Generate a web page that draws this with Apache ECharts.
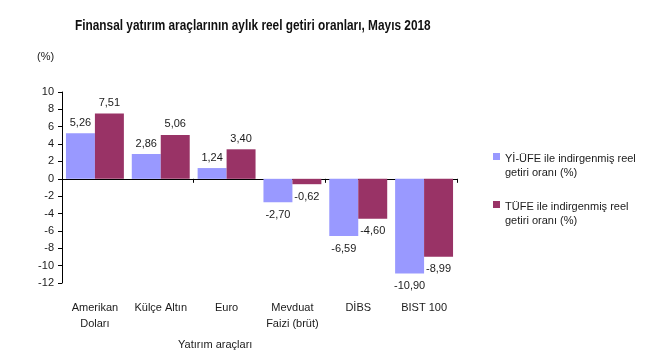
<!DOCTYPE html>
<html><head><meta charset="utf-8">
<script src="https://cdn.jsdelivr.net/npm/echarts@6/dist/echarts.min.js"></script>
<style>html,body{margin:0;padding:0;background:#fff}#c{width:650px;height:360px}</style>
</head><body><div id="c"></div>
<script>
var categories = ['Amerikan\nDoları', 'Külçe Altın', 'Euro', 'Mevduat\nFaizi (brüt)', 'DİBS', 'BIST 100'];
var seriesNames = ['Yİ-ÜFE ile indirgenmiş reel\ngetiri oranı (%)', 'TÜFE ile indirgenmiş reel\ngetiri oranı (%)'];
var yiUfe = [5.26, 2.86, 1.24, -2.70, -6.59, -10.90];
var tufe = [7.51, 5.06, 3.40, -0.62, -4.60, -8.99];
var yTicks = {min: -12, max: 10, interval: 2};
var titleText = 'Finansal yatırım araçlarının aylık reel getiri oranları, Mayıs 2018';

var chart = echarts.init(document.getElementById('c'));
var txt = '#1a1a1a';
var font = "'Liberation Sans', Arial, sans-serif";
function fmt(p){ return p.value.toFixed(2).replace('.', ','); }
function lbl(){
  return {show: true, formatter: fmt, color: txt, fontSize: 11, fontFamily: font, distance: 5,
    position: 'top'};
}
function mk(name, data, color){
  return {
    name: name, type: 'bar', xAxisIndex: 0, barGap: '0%', barCategoryGap: '12%',
    itemStyle: {color: color},
    data: data.map(function(v){
      return {value: v, label: {position: v < 0 ? 'bottom' : 'top', distance: v < 0 ? 7 : 5}};
    }),
    label: lbl()
  };
}
var iconPath = 'path://M0,0L7,0L7,7L0,7Z M0,26';
chart.setOption({
  animation: false,
  grid: {left: 62, right: 193, top: 92, bottom: 77},
  legend: {
    orient: 'vertical', left: 488, top: 147, itemGap: 20,
    itemWidth: 7, itemHeight: 26, icon: iconPath,
    textStyle: {fontSize: 11, lineHeight: 14, color: txt, fontFamily: font},
    data: seriesNames
  },
  xAxis: [{
    type: 'category', data: categories,
    axisLine: {onZero: true, lineStyle: {color: '#000', width: 1}},
    axisTick: {show: true, length: 4, inside: false, lineStyle: {color: '#000'}},
    axisLabel: {show: false}
  }, {
    type: 'category', data: categories, position: 'bottom',
    axisLine: {show: false, onZero: false}, axisTick: {show: false},
    axisLabel: {margin: 17, color: txt, fontSize: 11, lineHeight: 16, fontFamily: font, interval: 0}
  }],
  yAxis: {
    type: 'value', min: yTicks.min, max: yTicks.max, interval: yTicks.interval,
    splitLine: {show: false},
    axisLine: {show: true, lineStyle: {color: '#000'}},
    axisTick: {show: true, length: 4, lineStyle: {color: '#000'}},
    axisLabel: {color: txt, fontSize: 11, fontFamily: font, margin: 8}
  },
  graphic: [
    {type: 'text', x: 75, y: 18, scaleX: 0.79,
      style: {text: titleText, fill: '#111', fontSize: 15, fontWeight: 'bold', fontFamily: font}},
    {type: 'text', left: 37, top: 51, style: {text: '(%)', fill: txt, fontSize: 11, fontFamily: font}},
    {type: 'text', left: 178, top: 339, style: {text: 'Yatırım araçları', fill: txt, fontSize: 11, fontFamily: font}}
  ],
  series: [mk(seriesNames[0], yiUfe, '#9999FF'), mk(seriesNames[1], tufe, '#993366')]
});
</script></body></html>
